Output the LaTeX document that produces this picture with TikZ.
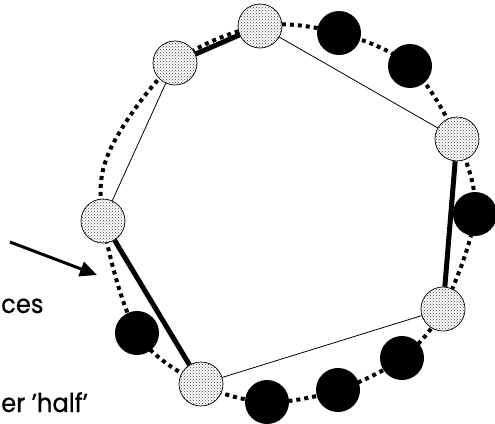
\documentclass[tikz,border=0pt]{standalone}
\usepackage{fontspec}
\setmainfont{Poppins}[FakeBold=0.6,FakeStretch=0.93]
\usetikzlibrary{patterns,arrows.meta,backgrounds}
\tikzset{
  graynode/.style={circle,draw=black,line width=0.7pt,minimum size=44pt,inner sep=0pt,
    preaction={fill=white},pattern=crosshatch dots,pattern color=black!75},
  blacknode/.style={circle,fill=black,minimum size=44pt,inner sep=0pt},
  thinedge/.style={line width=0.8pt},
  thickedge/.style={line width=5pt},
  ring/.style={line width=4pt,dash pattern=on 4pt off 4pt},
  label/.style={font=\fontsize{26}{26}\selectfont,inner sep=0pt,text depth=0pt,anchor=base west}
}
\begin{document}
\begin{tikzpicture}[x=1pt,y=-1pt]
\useasboundingbox (0,0) rectangle (495,423);
\node[graynode] (G1) at (260,26) {};
\node[graynode] (G2) at (175,63) {};
\node[graynode] (G3) at (457,139) {};
\node[graynode] (G4) at (443,309) {};
\node[graynode] (G5) at (201,384) {};
\node[graynode] (G6) at (103,221) {};
\node[blacknode] (B1) at (339,33) {};
\node[blacknode] (B2) at (410,66) {};
\node[blacknode] (B3) at (475,214) {};
\node[blacknode] (B4) at (402,358) {};
\node[blacknode] (B5) at (338,390) {};
\node[blacknode] (B6) at (267,402) {};
\node[blacknode] (B7) at (137,333) {};
\coordinate (R1) at (110,150);
\begin{scope}[on background layer]
\draw[ring] plot[smooth cycle,tension=0.55] coordinates {(G1) (B1) (B2) (G3) (B3) (G4) (B4) (B5) (B6) (G5) (B7) (G6) (R1) (G2)};
\end{scope}
\draw[thinedge] (G1) -- (G3);
\draw[thickedge] (G3) -- (G4);
\draw[thinedge] (G4) -- (G5);
\draw[thickedge] (G5) -- (G6);
\draw[thinedge] (G6) -- (G2);
\draw[thickedge] (G2) -- (G1);
\coordinate (A0) at (10,242);
\coordinate (A1) at (97,275);
\draw[line width=3pt,-{Triangle[length=17pt,width=15pt]}] (A0) -- (A1);
\node[label] (T1) at (1,313) {ces};
\node[label] (T2) at (1,412) {er 'half'};
\end{tikzpicture}
\end{document}
